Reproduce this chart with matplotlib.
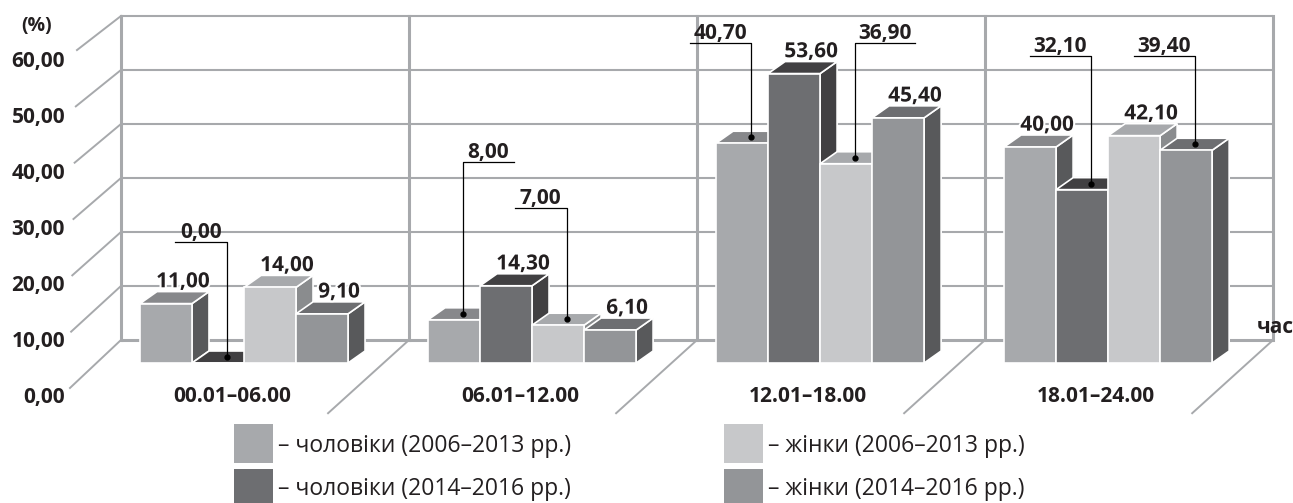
import matplotlib
matplotlib.use('Agg')
import matplotlib.pyplot as plt
from matplotlib.patches import Polygon, Rectangle
import matplotlib.patheffects as pe

# data
periods = ['00.01–06.00', '06.01–12.00', '12.01–18.00', '18.01–24.00']
men_0613 = [11.00, 8.00, 40.70, 40.00]
men_1416 = [0.00, 14.30, 53.60, 32.10]
women_0613 = [14.00, 7.00, 36.90, 42.10]
women_1416 = [9.10, 6.10, 45.40, 39.40]
series_names = ['– чоловіки (2006–2013 рр.)', '– чоловіки (2014–2016 рр.)',
                '– жінки (2006–2013 рр.)', '– жінки (2014–2016 рр.)']
y_ticks = [0, 10, 20, 30, 40, 50, 60]

series = [men_0613, men_1416, women_0613, women_1416]
# front, top, side colours
colors = [('#a7a9ac', '#87888b', '#58595b'),
          ('#6d6e71', '#414042', '#414042'),
          ('#c7c8ca', '#a7a9ac', '#8a8c8e'),
          ('#939598', '#6d6e71', '#58595b')]

# callout labels: (series, group) -> (height of leader line, direction)
callouts = {(1, 0): (22.4, -1), (0, 1): (37.2, 1), (2, 1): (28.7, -1),
            (0, 2): (59.3, -1), (2, 2): (59.3, 1),
            (1, 3): (56.9, -1), (3, 3): (56.9, -1)}

plt.rcParams['font.family'] = ['Open Sans', 'DejaVu Sans']
TXT = '#231f20'
WALL = '#a7a9ac'

fig = plt.figure(figsize=(12.93, 5.03), dpi=100)
ax = fig.add_axes([0, 0, 1, 1])
ax.set_xlim(-0.486, 4.003)
ax.set_ylim(-25.93, 67.22)
ax.axis('off')

W = 0.1806          # bar pitch (group units)
DX, DY = 0.059, 2.22  # bar depth
WX, WY = -0.066, 4.26  # back wall offset

def fmt(v):
    return ('%.2f' % v).replace('.', ',')

stroke = [pe.withStroke(linewidth=3, foreground='white')]

# back wall
for v in y_ticks:
    ax.plot([WX, WX + 4], [v + WY, v + WY], color=WALL,
            lw=2.2 if v == 0 else 1.5, zorder=1, solid_capstyle='butt')
for k in range(5):
    ax.plot([WX + k, WX + k], [WY, 60 + WY], color=WALL, lw=2.2, zorder=1)

# left wall
for v in y_ticks:
    fx = (70 + 7 * v / 60 - 140) / 288
    fy = -4.63 + 1.043 * v
    ax.plot([WX, fx], [v + WY, fy], color=WALL, lw=1.4, zorder=1)
    ax.text(-0.26, -7.5 + 1.037 * v, fmt(v), ha='right', va='baseline',
            fontsize=15, fontweight='bold', color=TXT)
ax.text(-0.358, 61.5, '(%)', ha='center', va='baseline', fontsize=14,
        fontweight='bold', color=TXT)

# floor
for k in range(1, 5):
    ax.plot([WX + k, WX + k - 0.281], [WY, -9.3], color=WALL, lw=1.4, zorder=1)

# bars
z = 2
for g in range(len(periods)):
    for j, vals in enumerate(series):
        h = vals[g]
        x0 = g + j * W
        x1 = x0 + W
        fc, tc, sc = colors[j]
        side = [(x1, 0), (x1 + DX, DY), (x1 + DX, h + DY), (x1, h)]
        top = [(x0, h), (x0 + DX, h + DY), (x1 + DX, h + DY), (x1, h)]
        ax.add_patch(Polygon(side, closed=True, fc=sc, ec='white', lw=1.2, zorder=z))
        ax.add_patch(Polygon(top, closed=True, fc=tc, ec='white', lw=1.2, zorder=z))
        ax.add_patch(Rectangle((x0, 0), W, h, fc=fc, ec='white', lw=1.2, zorder=z))
        z += 1

        cx = x0 + W / 2 + DX / 2
        cy = h + DY / 2
        if (j, g) in callouts:
            ly, d = callouts[(j, g)]
            L = 0.18 if h < 10 else 0.21
            ax.plot([cx, cx, cx + d * L], [cy, ly, ly], color='black', lw=0.9, zorder=50)
            ax.plot([cx], [cy], 'o', color='black', ms=3.5, zorder=51)
            ax.text(cx + d * L / 2, ly + 0.7, fmt(h), ha='center', va='baseline',
                    fontsize=15, fontweight='bold', color=TXT, zorder=52)
        else:
            ax.text(x0 + W / 2 + DX, h + DY + 0.8, fmt(h), ha='center', va='baseline',
                    fontsize=15, fontweight='bold', color=TXT, zorder=52,
                    path_effects=stroke)
    ax.text(g + 2 * W - 0.042, -7.31, periods[g], ha='center', va='baseline',
            fontsize=15, fontweight='bold', color=TXT)

ax.text(3.94, 5.55, 'час', ha='center', va='baseline', fontsize=15,
        fontweight='bold', color=TXT)

# legend
leg_x = [0.326, 0.326, 2.028, 2.028]
leg_y = [-18.52, -26.85, -18.52, -26.85]
txt_x = [0.479, 0.479, 2.181, 2.181]
txt_y = [-16.48, -24.44, -16.48, -24.44]
for j, name in enumerate(series_names):
    ax.add_patch(Rectangle((leg_x[j], leg_y[j]), 0.136, 7.22, fc=colors[j][0],
                           ec='none', zorder=2))
    ax.text(txt_x[j], txt_y[j], name, ha='left', va='baseline', fontsize=16.5,
            color=TXT)

fig.savefig('out.png', dpi=100)
